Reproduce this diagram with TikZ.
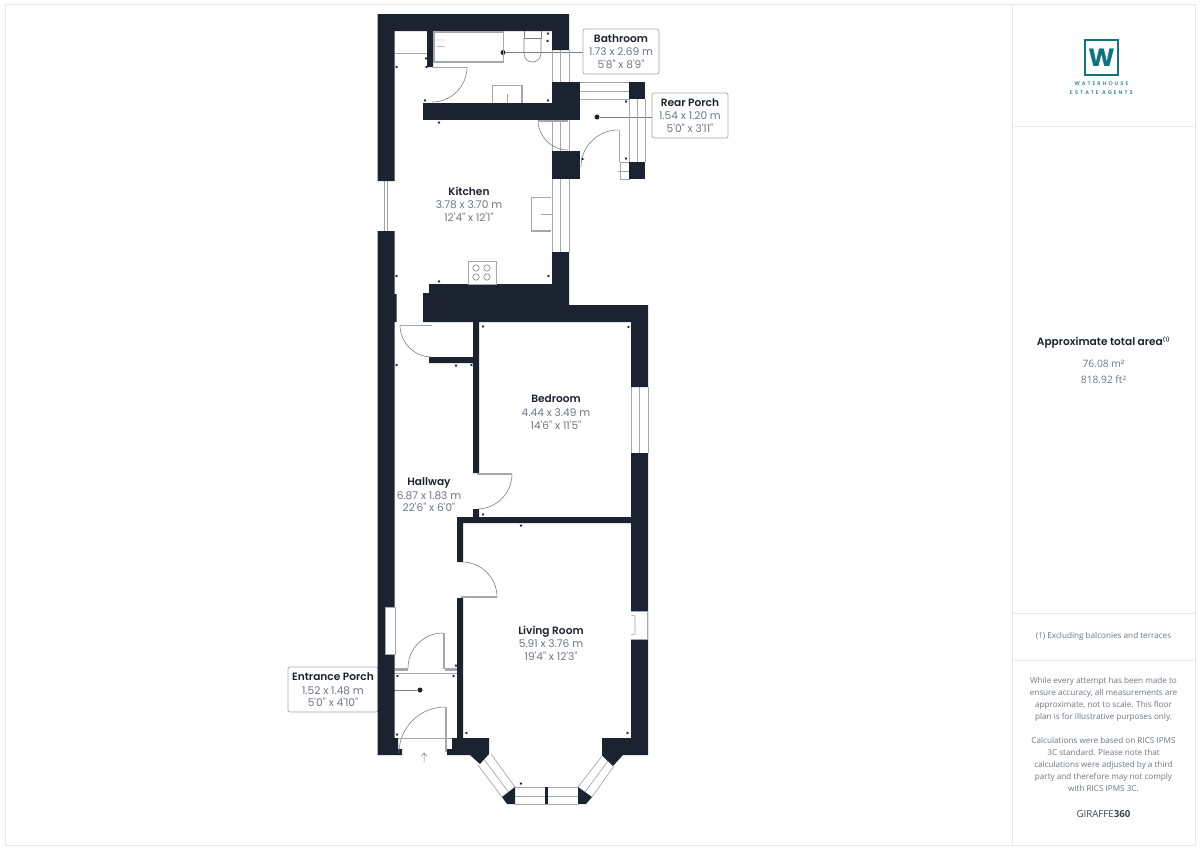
\documentclass[tikz,border=0pt]{standalone}
\usepackage{fontspec}
\setmainfont{Open Sans}
\newfontfamily\roomfont{Poppins}
\newfontfamily\titlefont{Poppins SemiBold}
\newfontfamily\notefont{Open Sans}
\newfontfamily\logofont[LetterSpace=38]{Poppins Medium}
\definecolor{wallcol}{HTML}{1B2230}
\definecolor{textcol}{HTML}{6E7684}
\definecolor{fixcol}{HTML}{A4A8AE}
\definecolor{framecol}{HTML}{E6E8EA}
\definecolor{logocol}{HTML}{0E7480}
\newcommand{\roomtext}[3]{\textcolor{wallcol}{\titlefont #1}\\[1.2pt]\textcolor{textcol}{#2}\\\textcolor{textcol}{#3}}
\tikzset{
  wall/.style={fill=wallcol,draw=none},
  fixture/.style={draw=fixcol,line width=0.7pt},
  heavyfix/.style={draw=fixcol,line width=1.9pt},
  swing/.style={draw=gray,line width=0.6pt},
  roomlabel/.style={align=center,inner sep=0pt,font=\roomfont\fontsize{10.6}{12.5}\selectfont},
  tagbox/.style={roomlabel,draw=fixcol,fill=white,rounded corners=2pt,line width=0.7pt,minimum width=76pt,minimum height=45pt},
  tagdot/.style={circle,fill=wallcol,inner sep=0pt,minimum size=5pt},
  tagline/.style={draw=gray,line width=0.6pt},
  framing/.style={draw=framecol,line width=1pt},
  note/.style={align=center,inner sep=0pt,text=textcol,font=\notefont\fontsize{8.15}{12}\selectfont},
  areanote/.style={note,font=\notefont\fontsize{10.2}{12}\selectfont},
  logotext/.style={inner sep=0pt,text=logocol,font=\logofont\fontsize{5.3}{8}\selectfont}
}
\begin{document}
\begin{tikzpicture}[x=1pt,y=-1pt]
  \useasboundingbox (0,0) rectangle (1200,849);
  \fill[white] (0,0) rectangle (1200,849);
  % frame
  \draw[framing] (5,4) rectangle (1195,845);
  \draw[framing] (1012,4) -- (1012,845);
  \foreach \y in {126,613,660}
    \draw[framing] (1012,\y) -- (1195,\y);
  %
  % tags and their dots
  \node[tagdot] (bathdot) at (503,52.5) {};
  \node[tagdot] (reardot) at (597,117) {};
  \node[tagdot] (entrydot) at (420,690) {};
  \node[tagbox] (bathtag) at (621,51.5) {\roomtext{Bathroom}{1.73 x 2.69 m}{5'8" x 8'9"}};
  \node[tagbox] (reartag) at (690,115.5) {\roomtext{Rear Porch}{1.54 x 1.20 m}{5'0" x 3'11"}};
  \node[tagbox,minimum width=90pt] (entrytag) at (333,689.5) {\roomtext{Entrance Porch}{1.52 x 1.48 m}{5'0" x 4'10"}};
  \draw[tagline] (bathdot) -- (bathdot -| bathtag.west);
  \draw[tagline] (reardot) -- (reardot -| reartag.west);
  \draw[tagline] (entrydot) -- (entrydot -| entrytag.east);
  %
  % windows
  \foreach \ya/\yb in {50/82,120/151,179/252}
    \draw[fixture] (552,\ya) -- (552,\yb) (560.5,\ya) -- (560.5,\yb) (569,\ya) -- (569,\yb);
  \draw[fixture] (580,82) -- (629,82) (580,91) -- (629,91) (580,99) -- (629,99);
  \draw[fixture] (629,99) -- (629,162) (637,99) -- (637,162) (645,99) -- (645,162);
  \draw[fixture] (631,387) -- (631,453) (639.5,387) -- (639.5,453) (648,387) -- (648,453);
  \draw[fixture] (384.5,181) -- (384.5,231) (387,181) -- (387,231);
  \draw[heavyfix,line width=1pt] (394,53) -- (427,53);
  \draw[fixture] (620,162) rectangle (629,179) (618,171) -- (629,171);
  % bay window
  \draw[fixture] (491,754) -- (515,787) (484.5,760) -- (508.5,792) (478,765) -- (502,797);
  \draw[fixture] (602,756) -- (578,787) (608,761) -- (585,792) (614,766) -- (592,797);
  \draw[fixture] (515,787) -- (578,787) (515,796) -- (578,796) (515,804) -- (578,804);
  %
  % walls
  \fill[wall] (377.5,14) -- (569,14) -- (569,50) -- (552,50) -- (552,31) -- (433,31) -- (433,67) -- (427,67)
    -- (427,31) -- (394.5,31) -- (394.5,181) -- (377.5,181) -- cycle;
  \fill[wall] (552,82) rectangle (580,120);
  \fill[wall] (423,103) rectangle (580,120);
  \fill[wall] (552,151) rectangle (580,179);
  \fill[wall] (629,82) rectangle (645,99);
  \fill[wall] (629,162) rectangle (645,179);
  \fill[wall] (377.5,231) -- (394.5,231) -- (394.5,294) -- (396.5,294) -- (396.5,322) -- (394.5,322) -- (394.5,738)
    -- (398,738) -- (398,749) -- (402,749) -- (402,755) -- (377.5,755) -- cycle;
  \fill[wall] (552,252) -- (569,252) -- (569,305) -- (648,305) -- (648,387) -- (631,387) -- (631,322) -- (479,322)
    -- (479,473) -- (473,473) -- (473,363) -- (429,363) -- (429,357) -- (473,357) -- (473,322) -- (423,322)
    -- (423,293) -- (429,293) -- (429,284) -- (552,284) -- cycle;
  \fill[wall] (631,453) -- (648,453) -- (648,755) -- (623,755) -- (613,766) -- (602,755.5) -- (602,738) -- (631,738) -- cycle;
  \fill[wall] (473,509) -- (479,509) -- (479,517) -- (631,517) -- (631,523) -- (463,523) -- (463,562) -- (457,562)
    -- (457,517) -- (473,517) -- cycle;
  \fill[wall] (457,598) -- (463,598) -- (463,738) -- (489,738) -- (489,754) -- (480,764) -- (470,755) -- (447,755)
    -- (447,749) -- (452,749) -- (452,738) -- (457,738) -- cycle;
  \fill[wall] (515,787) -- (515,804) -- (507,804) -- (502,797) -- cycle;
  \fill[wall] (578,787) -- (592,797) -- (586,804) -- (578,804) -- cycle;
  \fill[wall] (545,787) rectangle (548,804);
  % hall window and fireplace
  \draw[fixture,fill=white] (385,607) rectangle (395,654);
  \draw[fixture,fill=white] (631,611) -- (647,611) -- (647,639) -- (631,639);
  \draw[fixture] (631,615) -- (635,616) -- (635,634) -- (631,635);
  %
  % doors
  \draw[swing] (467,67) arc[start angle=0,end angle=90,radius=35];
  \fill[fixcol] (433,66.5) rectangle (467,68);
  \draw[swing] (538,120) arc[start angle=180,end angle=90,radius=30];
  \fill[fixcol] (538,120) rectangle (568,121.5);
  \draw[swing] (618,130) arc[start angle=-90,end angle=-180,radius=37];
  \draw[fixcol,line width=1pt] (619,130) -- (619,162);
  \draw[swing] (400,325) arc[start angle=180,end angle=90,radius=32];
  \draw[heavyfix] (400,325.5) -- (432,325.5);
  \draw[swing] (512,474) arc[start angle=0,end angle=90,radius=35];
  \draw[heavyfix] (477,474) -- (512,474);
  \draw[swing] (497,597) arc[start angle=0,end angle=-90,radius=35];
  \draw[heavyfix] (461,597) -- (497,597);
  \draw[swing] (443,633) arc[start angle=-90,end angle=-180,radius=35];
  \draw[heavyfix] (444,633) -- (444,669);
  \draw[heavyfix,line width=3pt] (395,669.5) -- (408,669.5) (445,669.5) -- (457,669.5);
  \draw[fixture] (395,673.5) -- (457,673.5);
  \draw[swing] (445,707) arc[start angle=-90,end angle=-180,radius=46];
  \draw[heavyfix] (446,707) -- (446,752);
  \draw[fixture] (398,738) -- (452,738);
  \draw[gray,line width=0.5pt] (424,762) -- (424,753) (421,756.5) -- (424,753) -- (427,756.5);
  %
  % fittings
  \draw[heavyfix] (434,32) rectangle (503.5,62);
  \draw[gray,line width=0.4pt] (436,40) -- (445,40) (436,46) -- (445,47);
  \draw[swing] (524,31) -- (524,38) -- (541,38) -- (541,31);
  \draw[swing] (524,38) -- (524,53.5) arc[start angle=180,end angle=0,radius=8.5] -- (541,38);
  \draw[heavyfix] (492.5,103) -- (492.5,85.5) -- (522,85.5) -- (522,103);
  \draw[fixture] (507,94) -- (507,103);
  \draw[heavyfix] (551,197.5) -- (531.5,197.5) -- (531.5,231) -- (551,231);
  \draw[fixture] (541,214) -- (552,214);
  \draw[fixture] (468,284) rectangle (496,261);
  \foreach \x in {476,487}
    \foreach \y in {268,277}
      \draw[gray,line width=0.6pt] (\x,\y) circle (3.2);
  %
  % dimension marks
  \foreach \mx/\my/\ang in {426/58/90,426/67/180,397/67/0,425/100/90,548/34/-90,548/41/0,548/100/90,
      439/123/-90,626/102/-90,626/159/-90,583/159/0,397/276/0,439/281/90,548/276/180,397/365/0,456/366/-90,
      471/365/180,483/326/90,628/327/180,483/514/90,521/526/-90,627/520/180,397/676/180,454/676/0,456/666/-90,
      397/735/-90,466/733/180,628/733/0,521/784/-90}
    \fill[wall,shift={(\mx,\my)},rotate=\ang] (-1.3,-1.3) -- (1.3,0) -- (-1.3,1.3) -- cycle;
  %
  % room labels
  \node[roomlabel] (kitchen) at (469,204) {\roomtext{Kitchen}{3.78 x 3.70 m}{12'4" x 12'1"}};
  \node[roomlabel] (bedroom) at (556,412) {\roomtext{Bedroom}{4.44 x 3.49 m}{14'6" x 11'5"}};
  \node[roomlabel] (hallway) at (429,494.5) {\roomtext{Hallway}{6.87 x 1.83 m}{22'6" x 6'0"}};
  \node[roomlabel] (livingroom) at (551,643) {\roomtext{Living Room}{5.91 x 3.76 m}{19'4" x 12'3"}};
  %
  % logo
  \draw[logocol,line width=2pt] (1085,40) rectangle (1117.5,74.5);
  \node[inner sep=0pt,text=logocol,font=\roomfont\bfseries\fontsize{25}{25}\selectfont] (logoW) at (1101.5,57.5) {W};
  \node[logotext] (logoA) at (1101.5,84) {WATERHOUSE};
  \node[logotext] (logoB) at (1101.5,92.5) {ESTATE AGENTS};
  %
  % side panel
  \node[inner sep=0pt,text=wallcol,font=\titlefont\fontsize{10.6}{13}\selectfont] (areatitle) at (1103.5,343) {Approximate total area\textsuperscript{\tiny(1)}};
  \node[areanote] (areaA) at (1103.5,364) {76.08 m²};
  \node[areanote] (areaB) at (1103.5,380) {818.92 ft²};
  \node[note] (excl) at (1103.5,636) {(1) Excluding balconies and terraces};
  \node[note,anchor=north] (disclaimer) at (1103.5,677) {While every attempt has been made to\\ensure accuracy, all measurements are\\approximate, not to scale. This floor\\plan is for illustrative purposes only.\\[12pt]Calculations were based on RICS IPMS\\3C standard. Please note that\\calculations were adjusted by a third\\party and therefore may not comply\\with RICS IPMS 3C.};
  \node[inner sep=0pt,text=wallcol!85!white,font=\notefont\fontsize{9.7}{11}\selectfont] (giraffe) at (1103.5,814) {GIRAFFE\textbf{360}};
\end{tikzpicture}
\end{document}
